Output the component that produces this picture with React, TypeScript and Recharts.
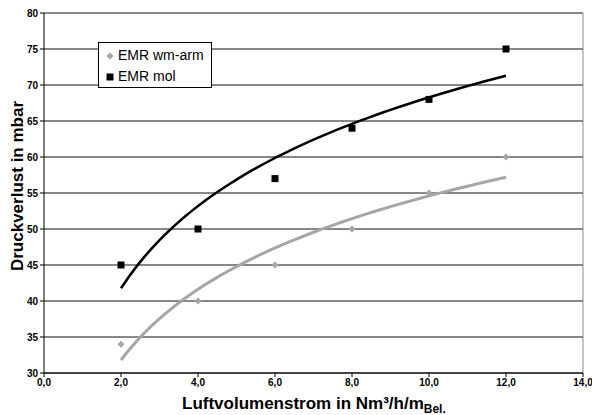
import {
  CartesianGrid,
  ComposedChart,
  Label,
  Legend,
  Line,
  ReferenceLine,
  Scatter,
  XAxis,
  YAxis,
} from "recharts";

const xTicks = [0, 2, 4, 6, 8, 10, 12, 14];
const yTicks = [30, 35, 40, 45, 50, 55, 60, 65, 70, 75, 80];

const flowRates = [2, 4, 6, 8, 10, 12];
const wmArm = [34, 40, 45, 50, 55, 60];
const mol = [45, 50, 57, 64, 68, 75];

const FONT = "'Liberation Sans', Arial, sans-serif";

// logarithmic trendline, like the one the spreadsheet puts on the series
const logFit = (xs: number[], ys: number[]) => {
  const lx = xs.map((x) => Math.log(x));
  const mx = lx.reduce((a, b) => a + b, 0) / lx.length;
  const my = ys.reduce((a, b) => a + b, 0) / ys.length;
  let sxy = 0;
  let sxx = 0;
  lx.forEach((l, i) => {
    sxy += (l - mx) * (ys[i] - my);
    sxx += (l - mx) * (l - mx);
  });
  const b = sxy / sxx;
  const a = my - b * mx;
  const pts = [];
  for (let x = xs[0]; x <= xs[xs.length - 1] + 1e-9; x += 0.2) {
    pts.push({ x, y: a + b * Math.log(x) });
  }
  return pts;
};

const wmArmPoints = flowRates.map((x, i) => ({ x, y: wmArm[i] }));
const molPoints = flowRates.map((x, i) => ({ x, y: mol[i] }));
const wmArmTrend = logFit(flowRates, wmArm);
const molTrend = logFit(flowRates, mol);

const Diamond = ({ cx, cy }: { cx?: number; cy?: number }) => {
  if (cx == null || cy == null) return null;
  const r = 3.5;
  return (
    <path
      d={`M${cx},${cy - r}L${cx + r},${cy}L${cx},${cy + r}L${cx - r},${cy}Z`}
      fill="#a6a6a6"
    />
  );
};

const Square = ({ cx, cy }: { cx?: number; cy?: number }) => {
  if (cx == null || cy == null) return null;
  return <rect x={cx - 3.5} y={cy - 3.5} width={7} height={7} fill="#000" />;
};

const LegendBox = () => (
  <div
    style={{
      border: "1px solid #000",
      background: "#fff",
      width: 114,
      height: 46,
      boxSizing: "border-box",
      fontFamily: FONT,
      fontSize: 14,
      padding: "2px 0 0 7px",
      lineHeight: "21px",
      color: "#000",
    }}
  >
    <div style={{ display: "flex", alignItems: "center" }}>
      <svg width={8} height={8} style={{ marginRight: 4 }}>
        <path d="M4,0.5L7.5,4L4,7.5L0.5,4Z" fill="#a6a6a6" />
      </svg>
      EMR wm-arm
    </div>
    <div style={{ display: "flex", alignItems: "center" }}>
      <svg width={8} height={8} style={{ marginRight: 4 }}>
        <rect x={0.5} y={0.5} width={7} height={7} fill="#000" />
      </svg>
      EMR mol
    </div>
  </div>
);

export default function App() {
  return (
    <div style={{ position: "absolute", left: 0, top: 0, width: 592, height: 415, background: "#fff" }}>
      <ComposedChart
        width={592}
        height={415}
        margin={{ top: 13, right: 9, bottom: 12, left: 4 }}
      >
        <CartesianGrid horizontal vertical={false} stroke="#111" strokeOpacity={1} />
        <XAxis
          type="number"
          dataKey="x"
          domain={[0, 14]}
          ticks={xTicks}
          allowDataOverflow
          height={30}
          tickFormatter={(v: number) => v.toFixed(1).replace(".", ",")}
          tick={{ fill: "#000", fontSize: 10, fontWeight: 700, fontFamily: FONT }}
          tickSize={4}
          axisLine={{ stroke: "#000" }}
          tickLine={{ stroke: "#000" }}
        >
          <Label
            content={() => (
              <text x={182} y={409} fontFamily={FONT} fontWeight={700} fontSize={17} fill="#000">
                Luftvolumenstrom in Nm³/h/m
                <tspan fontSize={12} dy={4}>
                  Bel.
                </tspan>
              </text>
            )}
          />
        </XAxis>
        <YAxis
          type="number"
          domain={[30, 80]}
          ticks={yTicks}
          width={40}
          tick={{ fill: "#000", fontSize: 10, fontWeight: 700, fontFamily: FONT }}
          tickSize={4}
          axisLine={{ stroke: "#000" }}
          tickLine={{ stroke: "#000" }}
        >
          <Label
            content={() => (
              <text
                x={23}
                y={186}
                transform="rotate(-90 23 186)"
                textAnchor="middle"
                fontFamily={FONT}
                fontWeight={700}
                fontSize={17}
                fill="#000"
              >
                Druckverlust in mbar
              </text>
            )}
          />
        </YAxis>
        <ReferenceLine y={80} stroke="#8c8c8c" />
        <ReferenceLine x={14} stroke="#8c8c8c" />
        <Line
          data={wmArmTrend}
          dataKey="y"
          type="linear"
          stroke="#a6a6a6"
          strokeWidth={3}
          dot={false}
          activeDot={false}
          isAnimationActive={false}
          legendType="none"
        />
        <Line
          data={molTrend}
          dataKey="y"
          type="linear"
          stroke="#000"
          strokeWidth={2.5}
          dot={false}
          activeDot={false}
          isAnimationActive={false}
          legendType="none"
        />
        <Scatter
          name="EMR wm-arm"
          data={wmArmPoints}
          dataKey="y"
          shape={<Diamond />}
          isAnimationActive={false}
        />
        <Scatter
          name="EMR mol"
          data={molPoints}
          dataKey="y"
          shape={<Square />}
          isAnimationActive={false}
        />
        <Legend
          layout="vertical"
          align="center"
          verticalAlign="middle"
          content={() => <LegendBox />}
          wrapperStyle={{ left: 98, top: 42, width: 114, height: 46 }}
        />
      </ComposedChart>
    </div>
  );
}
